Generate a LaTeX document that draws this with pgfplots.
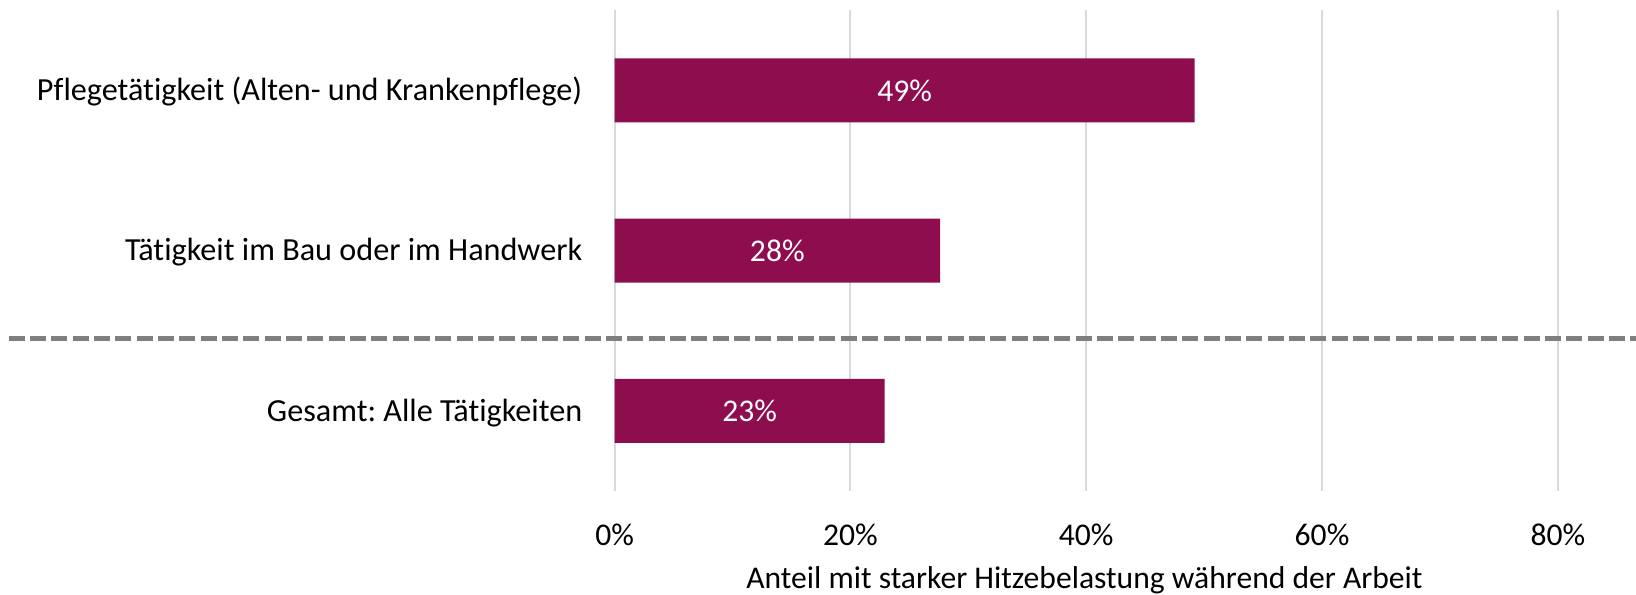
\documentclass[border=0pt]{standalone}
\usepackage{fontspec}
\setmainfont{Carlito}[Ligatures={NoCommon}]
\usepackage{pgfplots}
\pgfplotsset{compat=1.18}
\definecolor{barc}{HTML}{8E0D4F}
\definecolor{gridc}{HTML}{D9D9D9}
\definecolor{dashc}{HTML}{7F7F7F}
\frenchspacing
\begin{document}
\begin{tikzpicture}
\useasboundingbox (-307.3pt,-51.55pt) rectangle (510.7pt,245.45pt);
\begin{axis}[
  at={(0pt,0pt)}, anchor=south west,
  scale only axis,
  width=510.7pt, height=240.25pt,
  xmin=0, xmax=86.63,
  ymin=-0.5, ymax=2.5,
  y dir=reverse,
  clip=false,
  axis line style={draw=none},
  major tick length=0pt,
  tick style={draw=none},
  xmajorgrids,
  grid style={draw=gridc, line width=1pt},
  xtick={0,20,40,60,80},
  xticklabels={0\%,20\%,40\%,60\%,80\%},
  ytick={0,1,2},
  yticklabels={Pflegetätigkeit (Alten- und Krankenpflege),Tätigkeit im Bau oder im Handwerk,Gesamt: Alle Tätigkeiten},
  every tick label/.append style={font=\fontsize{15.8pt}{19pt}\selectfont, text=black},
  xticklabel style={anchor=base, yshift=-27.35pt},
  yticklabel style={anchor=base east, inner xsep=0pt, xshift=-16pt, yshift=-5.1pt, font=\fontsize{16.1pt}{19pt}\selectfont},
  xlabel={Anteil mit starker Hitzebelastung während der Arbeit},
  xlabel style={at={(axis description cs:0.46,0)}, anchor=base, yshift=-48.6pt, font=\fontsize{15.8pt}{19pt}\selectfont, text=black},
  /pgf/number format/assume math mode=true,
]
\addplot[xbar, bar width=32pt, fill=barc, draw=none] coordinates {
  (49.2,0) (27.6,1) (22.9,2)
};
\addplot[only marks, mark=none, point meta=explicit symbolic,
  nodes near coords,
  every node near coord/.append style={anchor=center, text=white, font=\fontsize{15.8pt}{19pt}\selectfont}]
  coordinates {
  (24.6,0) [49\%]
  (13.8,1) [28\%]
  (11.45,2) [23\%]
};
\draw[draw=dashc, line width=2.6pt, dash pattern=on 8pt off 2.67pt] (axis cs:-51.4,1.55) -- (axis cs:86.63,1.55);
\end{axis}
\end{tikzpicture}
\end{document}
